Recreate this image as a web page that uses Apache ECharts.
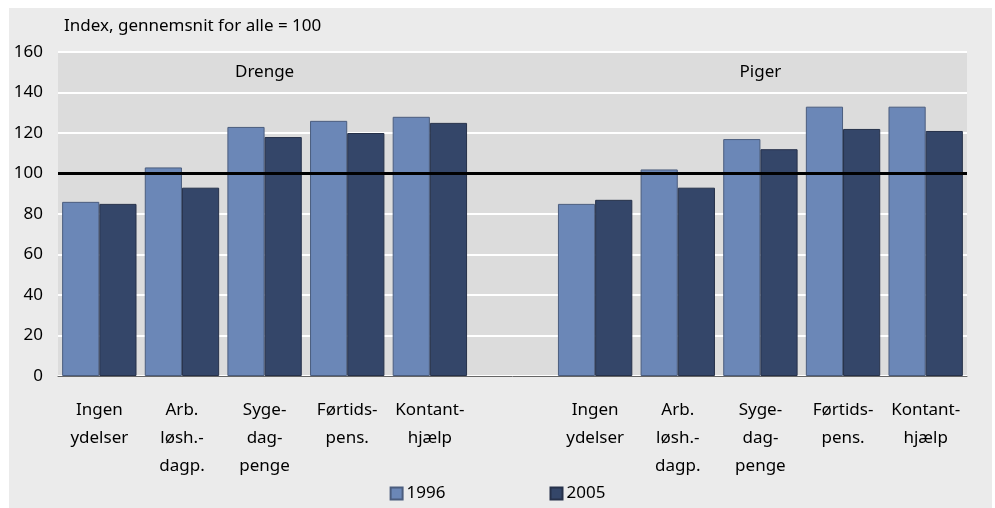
<!DOCTYPE html>
<html>
<head>
<meta charset="utf-8">
<script src="https://cdn.jsdelivr.net/npm/echarts@6/dist/echarts.min.js"></script>
<style>
  html, body { margin: 0; padding: 0; background: #fff; }
  #chart { width: 995px; height: 508px; }
</style>
</head>
<body>
<div id="chart"></div>
<script>
// kategorier: 5 for drenge, en tom plads, 5 for piger
const categories = [
  'Ingen\nydelser', 'Arb.\nløsh.-\ndagp.', 'Syge-\ndag-\npenge', 'Førtids-\npens.', 'Kontant-\nhjælp',
  '',
  'Ingen\nydelser', 'Arb.\nløsh.-\ndagp.', 'Syge-\ndag-\npenge', 'Førtids-\npens.', 'Kontant-\nhjælp'
]
const values1996 = [86, 103, 123, 126, 128, null, 85, 102, 117, 133, 133]
const values2005 = [85, 93, 118, 120, 125, null, 87, 93, 112, 122, 121]
const groups = [
  { name: 'Drenge', from: 0, to: 4 },
  { name: 'Piger', from: 6, to: 10 }
]
const yTicks = [0, 20, 40, 60, 80, 100, 120, 140, 160]
const refValue = 100

const font = '"Noto Sans", sans-serif'
const chart = echarts.init(document.getElementById('chart'))

const option = {
  backgroundColor: '#fff',
  animation: false,
  textStyle: { fontFamily: font, color: '#000' },
  graphic: [
    { type: 'rect', left: 9, top: 8, shape: { width: 983, height: 500 }, style: { fill: '#ebebeb' }, z: -10 },
    { type: 'text', left: 64, top: 18, style: { text: 'Index, gennemsnit for alle = 100', font: '17px ' + font, fill: '#000' } }
  ],
  grid: {
    left: 58, right: 28, top: 52, bottom: 132,
    show: true, backgroundColor: '#dcdcdc', borderWidth: 0
  },
  legend: {
    bottom: 1,
    left: 'center',
    itemGap: 104,
    itemWidth: 12,
    itemHeight: 12,
    icon: 'rect',
    textStyle: { fontSize: 17, fontFamily: font, color: '#000', padding: [0, 0, 0, -1] },
    data: ['1996', '2005']
  },
  xAxis: {
    type: 'category',
    data: categories,
    axisTick: { show: false },
    axisLine: { show: true, lineStyle: { color: '#666', width: 1 } },
    axisLabel: { interval: 0, fontSize: 17, lineHeight: 28, margin: 20, color: '#000', fontFamily: font }
  },
  yAxis: {
    type: 'value',
    min: yTicks[0],
    max: yTicks[yTicks.length - 1],
    interval: 20,
    axisLine: { show: false },
    axisTick: { show: false },
    axisLabel: { fontSize: 17, margin: 15, color: '#000', fontFamily: font },
    splitLine: { lineStyle: { color: '#fff', width: 2 } }
  },
  series: [
    {
      name: '1996',
      type: 'bar',
      data: values1996,
      barGap: '0%',
      barCategoryGap: '10%',
      itemStyle: { color: '#6b87b7', borderColor: '#4b5d7e', borderWidth: 1 },
      markArea: {
        silent: true,
        itemStyle: { color: 'rgba(0,0,0,0)' },
        label: { show: true, position: 'inside', fontSize: 17, color: '#000', fontFamily: font },
        data: groups.map(g => [
          { name: g.name, xAxis: g.from, yAxis: 140 },
          { xAxis: g.to, yAxis: 160 }
        ])
      }
    },
    {
      name: '2005',
      type: 'bar',
      data: values2005,
      itemStyle: { color: '#344669', borderColor: '#26314a', borderWidth: 1 },
      markLine: {
        silent: true,
        symbol: 'none',
        label: { show: false },
        lineStyle: { color: '#000', width: 3, type: 'solid' },
        data: [{ yAxis: refValue }]
      }
    }
  ]
}

chart.setOption(option)
</script>
</body>
</html>
